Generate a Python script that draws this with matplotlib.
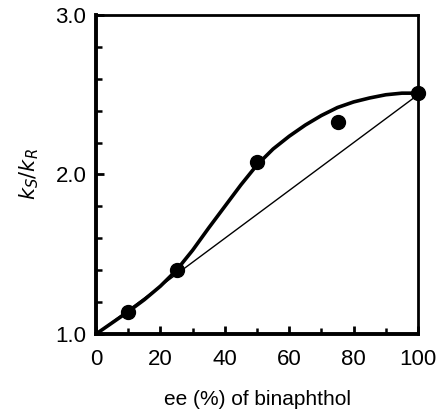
import matplotlib
matplotlib.use("Agg")
import matplotlib.pyplot as plt
from matplotlib.ticker import MultipleLocator

plt.rcParams['font.family'] = ['Liberation Sans', 'DejaVu Sans']

# measured points
ee_points = [10, 25, 50, 75, 100]
ratio_points = [1.14, 1.40, 2.08, 2.33, 2.51]

# thick fitted curve
curve_x = [0, 5, 10, 15, 20, 25, 30, 35, 40, 45, 50, 55, 60, 65, 70, 75, 80, 85, 90, 95, 100]
curve_y = [1.00, 1.07, 1.14, 1.215, 1.30, 1.40, 1.525, 1.665, 1.80, 1.935, 2.06, 2.16,
           2.24, 2.31, 2.37, 2.42, 2.455, 2.48, 2.50, 2.51, 2.51]

# thin linear reference line
line_x = [0, 100]
line_y = [1.0, 2.5]

xticks = [0, 20, 40, 60, 80, 100]
xticklabels = ['0', '20', '40', '60', '80', '100']
yticks = [1.0, 2.0, 3.0]
yticklabels = ['1.0', '2.0', '3.0']

fig = plt.figure(figsize=(4.39, 4.09), dpi=100)
ax = fig.add_axes([0.2187, 0.1834, 0.7335, 0.7799])

ax.plot(line_x, line_y, color='black', lw=1.0, zorder=2)
ax.plot(curve_x, curve_y, color='black', lw=2.6, solid_capstyle='round',
        solid_joinstyle='round', zorder=3)
ax.plot(ee_points, ratio_points, 'o', color='black', markersize=10, zorder=4, clip_on=False)

ax.set_xlim(0, 100)
ax.set_ylim(1.0, 3.0)
ax.set_xticks(xticks)
ax.set_xticklabels(xticklabels)
ax.set_yticks(yticks)
ax.set_yticklabels(yticklabels)
ax.xaxis.set_minor_locator(MultipleLocator(10))
ax.yaxis.set_minor_locator(MultipleLocator(0.2))

ax.tick_params(which='major', direction='in', length=6, width=2.0, labelsize=16,
               top=False, right=False, pad=7, colors='black')
ax.tick_params(which='minor', direction='in', length=4, width=1.8,
               top=False, right=False)
ax.tick_params(axis='x', which='major', pad=11)

for side in ['left', 'bottom']:
    ax.spines[side].set_linewidth(2.8)
for side in ['top', 'right']:
    ax.spines[side].set_linewidth(2.0)

ax.set_xlabel('ee (%) of binaphthol', fontsize=15, labelpad=14)
ax.set_ylabel(r'$k_{S}/k_{R}$', fontsize=15, labelpad=10)

fig.savefig('out.png', dpi=100)
